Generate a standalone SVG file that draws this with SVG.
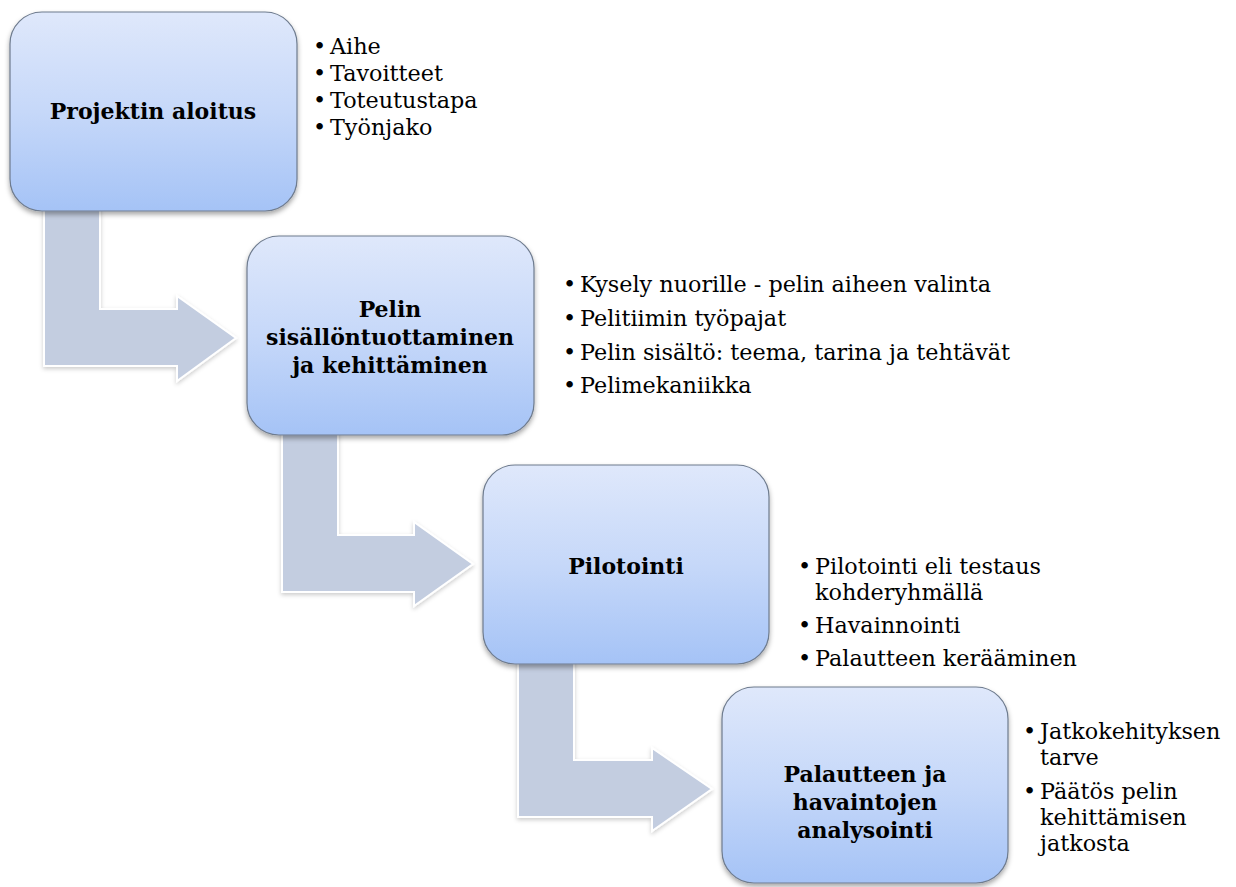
<svg xmlns="http://www.w3.org/2000/svg" width="1236" height="887" viewBox="0 0 1236 887">
<defs>
<linearGradient id="boxGrad" x1="0" y1="0" x2="0" y2="1">
<stop offset="0" stop-color="#dfe8fb"/>
<stop offset="0.5" stop-color="#c6d8f9"/>
<stop offset="1" stop-color="#a5c3f6"/>
</linearGradient>
<filter id="shadow" x="-10%" y="-10%" width="120%" height="125%">
<feDropShadow dx="0" dy="3" stdDeviation="2.5" flood-color="#000" flood-opacity="0.35"/>
</filter>
<filter id="ashadow" x="-10%" y="-10%" width="120%" height="125%">
<feDropShadow dx="0" dy="2" stdDeviation="2" flood-color="#000" flood-opacity="0.2"/>
</filter>
</defs>
<style>
.box { fill: url(#boxGrad); stroke: #6e7b8e; stroke-width: 1.2; filter: url(#shadow); }
.arrow { fill: #c3cde0; stroke: #ffffff; stroke-width: 2; stroke-linejoin: miter; filter: url(#ashadow); }
.title { font-family: "DejaVu Serif", "Liberation Serif", serif; font-weight: bold; font-size: 22px; fill: #000; text-anchor: middle; }
.item { font-family: "DejaVu Serif", "Liberation Serif", serif; font-size: 22.3px; fill: #000; }
</style>
<rect width="1236" height="887" fill="#ffffff"/>
<g id="connectors">
<path class="arrow" d="M44,200 L100,200 L100,309 L177,309 L177,296 L236,338 L177,381 L177,366 L44,366 Z"/>
<path class="arrow" d="M282,425 L338,425 L338,535 L414,535 L414,522 L473,564 L414,606 L414,592 L282,592 Z"/>
<path class="arrow" d="M518,653 L574,653 L574,760 L652,760 L652,748 L712,789 L652,831 L652,817 L518,817 Z"/>
</g>
<g id="node1">
<rect class="box" x="10" y="12" width="287" height="199" rx="32" ry="32"/>
<text class="title" x="153" y="119">Projektin aloitus</text>
</g>
<g id="list1">
<text class="item" x="313" y="54">•</text><text class="item" x="330" y="54">Aihe</text>
<text class="item" x="313" y="81">•</text><text class="item" x="330" y="81">Tavoitteet</text>
<text class="item" x="313" y="108">•</text><text class="item" x="330" y="108">Toteutustapa</text>
<text class="item" x="313" y="135">•</text><text class="item" x="330" y="135">Työnjako</text>
</g>
<g id="node2">
<rect class="box" x="247" y="236" width="287" height="199" rx="32" ry="32"/>
<text class="title" x="390" y="317">Pelin</text>
<text class="title" x="390" y="345">sisällöntuottaminen</text>
<text class="title" x="390" y="373">ja kehittäminen</text>
</g>
<g id="list2">
<text class="item" x="563" y="292">•</text><text class="item" x="580" y="292">Kysely nuorille - pelin aiheen valinta</text>
<text class="item" x="563" y="326">•</text><text class="item" x="580" y="326">Pelitiimin työpajat</text>
<text class="item" x="563" y="360">•</text><text class="item" x="580" y="360">Pelin sisältö: teema, tarina ja tehtävät</text>
<text class="item" x="563" y="393">•</text><text class="item" x="580" y="393">Pelimekaniikka</text>
</g>
<g id="node3">
<rect class="box" x="483" y="465" width="286" height="199" rx="32" ry="32"/>
<text class="title" x="626" y="574">Pilotointi</text>
</g>
<g id="list3">
<text class="item" x="798" y="574">•</text><text class="item" x="815" y="574">Pilotointi eli testaus</text>
<text class="item" x="815" y="600">kohderyhmällä</text>
<text class="item" x="798" y="633">•</text><text class="item" x="815" y="633">Havainnointi</text>
<text class="item" x="798" y="666">•</text><text class="item" x="815" y="666">Palautteen kerääminen</text>
</g>
<g id="node4">
<rect class="box" x="722" y="687" width="286" height="196" rx="32" ry="32"/>
<text class="title" x="865" y="782">Palautteen ja</text>
<text class="title" x="865" y="810">havaintojen</text>
<text class="title" x="865" y="838">analysointi</text>
</g>
<g id="list4">
<text class="item" x="1023" y="739">•</text><text class="item" x="1040" y="739">Jatkokehityksen</text>
<text class="item" x="1040" y="765">tarve</text>
<text class="item" x="1023" y="799">•</text><text class="item" x="1040" y="799">Päätös pelin</text>
<text class="item" x="1040" y="825">kehittämisen</text>
<text class="item" x="1040" y="851">jatkosta</text>
</g>
</svg>
